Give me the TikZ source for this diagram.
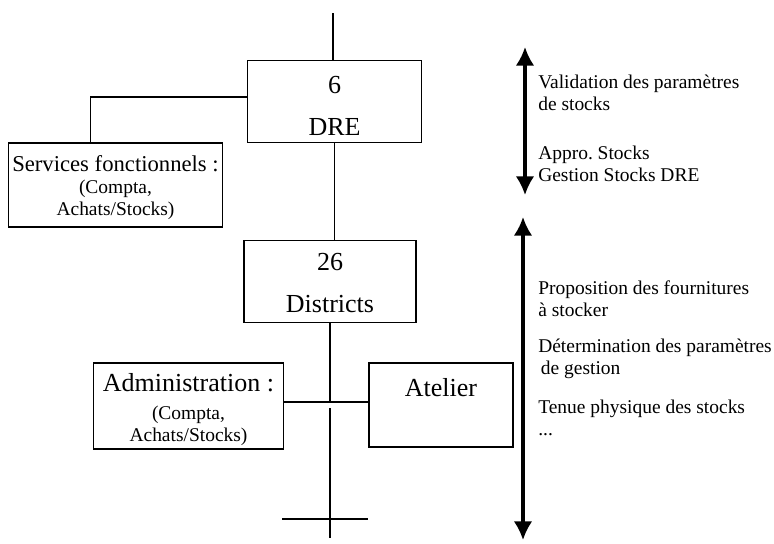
\documentclass[tikz,border=0pt]{standalone}
\usepackage{fontspec}
\setmainfont{Liberation Serif}
\usepackage{tikz}
\usetikzlibrary{arrows.meta,positioning,calc}
\newcommand{\bigtxt}{\fontsize{19.5pt}{23pt}\selectfont}
\newcommand{\midtxt}{\fontsize{17pt}{20pt}\selectfont}
\newcommand{\smalltxt}{\fontsize{14.6pt}{16.5pt}\selectfont}
\newcommand{\topstrut}[1]{\rule{0pt}{#1}}
\tikzset{
    % Boxes of the organisation chart
    orgbox/.style={rectangle,draw=black,line width=0.8pt,align=center,inner sep=2pt,fill=white},
    link/.style={draw=black,line width=0.8pt},
    % Level arrows and their notes
    levelarrow/.style={{Latex[length=14pt,width=14pt]}-{Latex[length=14pt,width=14pt]},line width=2.3pt},
    remark/.style={anchor=west,align=left,inner sep=0pt,font=\smalltxt}
}

\begin{document}
\begin{tikzpicture}[x=0.75pt,y=-0.75pt]
  \useasboundingbox (0,0) rectangle (774,543);

  % Regional level
  \node[orgbox,minimum width=131pt,minimum height=61pt,font=\bigtxt] at (334.5,101.5) (dre) {\topstrut{20pt}6\\[8.5pt]DRE};
  \node[orgbox,minimum width=161pt,minimum height=63pt,font=\smalltxt] at (115.5,185) (svc) {\topstrut{16.5pt}{\midtxt Services fonctionnels :}\\(Compta,\\Achats/Stocks)};

  % District level
  \node[orgbox,minimum width=129pt,minimum height=62pt,font=\bigtxt] at (330,281.5) (districts) {\topstrut{15pt}26\\[9pt]Districts};
  \node[orgbox,minimum width=142pt,minimum height=64.5pt,font=\smalltxt] at (188.5,406) (admin) {\topstrut{18.7pt}{\bigtxt Administration :}\\[4.5pt](Compta,\\Achats/Stocks)};
  \node[orgbox,minimum width=108pt,minimum height=63pt,text depth=27pt,font=\bigtxt] at (441,405) (atelier) {Atelier};

  % Connection lines
  \coordinate (top) at (333,13);
  \draw[link] (top) -- (top |- dre.north);
  \draw[link] ([yshift=3.4pt]dre.west) -| ($(svc.north west)!0.386!(svc.north east)$);
  \draw[link] (dre.south) -- (dre.south |- districts.north);
  \coordinate (junction) at (330,402);
  \draw[link] (districts.south) -- (junction);
  \draw[link] (admin.east |- junction) -- (atelier.west |- junction);
  \coordinate (stemtop) at (330,408);
  \coordinate (stemend) at (330,538);
  \draw[link] (stemtop) -- (stemend);
  \coordinate (crossL) at (282,519);
  \coordinate (crossR) at (368,519);
  \draw[link] (crossL) -- (crossR);

  % Level arrows
  \coordinate (dretop) at (525,47);
  \coordinate (drebot) at (525,195);
  \draw[levelarrow] (dretop) -- (drebot);
  \coordinate (distop) at (523,217);
  \coordinate (disbot) at (523,540);
  \draw[levelarrow] (distop) -- (disbot);

  % Tasks of each level
  \node[remark] at (538,92.5) (valid) {Validation des paramètres\\de stocks};
  \node[remark] at (538,163.5) (appro) {Appro.\ Stocks\\Gestion Stocks DRE};
  \node[remark] at (538,299) (propo) {Proposition des fournitures\\à stocker};
  \node[remark] at (538,358.5) (determ) {Détermination des paramètres\\\hspace*{2pt}de gestion};
  \node[remark] at (538,418) (tenue) {Tenue physique des stocks\\...};
\end{tikzpicture}
\end{document}
